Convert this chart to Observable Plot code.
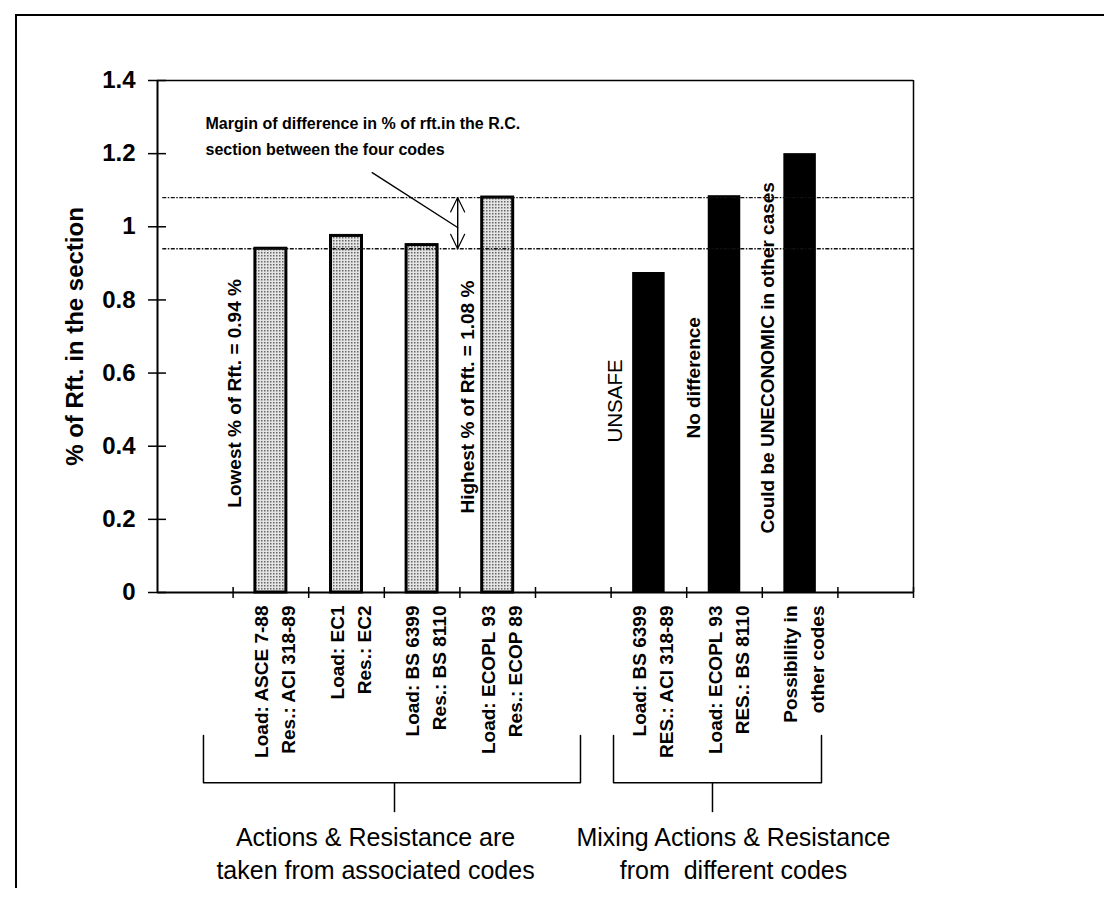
<!DOCTYPE html>
<html>
<head>
<meta charset="utf-8">
<script src="https://cdn.jsdelivr.net/npm/d3@7"></script>
<script src="https://cdn.jsdelivr.net/npm/@observablehq/plot@0.6"></script>
<style>
  body { margin: 0; background: #fff; }
  #wrap { position: relative; width: 1104px; height: 900px; overflow: hidden; }
  #frame { position: absolute; left: 15px; top: 14px; right: -4px; bottom: 12px;
           border-top: 2px solid #000; border-left: 2px solid #000; pointer-events: none; }
  #wrap svg { position: absolute; left: 0; top: 0; }
  svg text { white-space: pre; }
</style>
</head>
<body>
<div id="wrap"><div id="frame"></div></div>
<script>
// ---- data ----
const categories = [
  "",
  "Load: ASCE 7-88\nRes.: ACI 318-89",
  "Load: EC1\nRes.: EC2",
  "Load: BS 6399\nRes.: BS 8110",
  "Load: ECOPL 93\nRes.: ECOP 89",
  "",
  "Load: BS 6399\nRES.: ACI 318-89",
  "Load: ECOPL 93\nRES.: BS 8110",
  "Possibility in\nother codes",
  ""
];
const associatedCodes = [null, 0.94, 0.975, 0.95, 1.08, null, null, null, null, null];
const mixedCodes      = [null, null, null, null, null, null, 0.875, 1.085, 1.2, null];
const yTicks      = [0, 0.2, 0.4, 0.6, 0.8, 1, 1.2, 1.4];
const yTickLabels = ["0", "0.2", "0.4", "0.6", "0.8", "1", "1.2", "1.4"];
const yLabel = "% of Rft. in the section";
const lowestValue = 0.94;
const highestValue = 1.08;
const lowestText = "Lowest % of Rft. = 0.94 %";
const highestText = "Highest % of Rft. = 1.08 %";
const barNotes = ["UNSAFE", "No difference", "Could be UNECONOMIC in other cases"];
const marginNote = "Margin of difference in % of rft.in the R.C.\nsection between the four codes";
const groupLabels = ["Actions & Resistance are\ntaken from associated codes",
                     "Mixing Actions & Resistance\nfrom  different codes"];

// ---- table built from the arrays ----
const rows = categories.map((label, i) => ({i, label, associated: associatedCodes[i], mixed: mixedCodes[i]}));
const half = 0.205; // half bar width in category units
const FONT = "Arial, 'Liberation Sans', sans-serif";

const chart = Plot.plot({
  width: 1104,
  height: 900,
  marginLeft: 157,
  marginRight: 191,
  marginTop: 80,
  marginBottom: 308,
  x: {domain: [0, categories.length], axis: null},
  y: {domain: [0, 1.4], axis: null},
  style: {fontFamily: FONT, color: "#000", background: "transparent", overflow: "visible"},
  marks: [
    // bars
    Plot.rect(rows.filter(d => d.associated != null), {
      x1: d => d.i + 0.5 - half, x2: d => d.i + 0.5 + half, y1: 0, y2: "associated",
      fill: "url(#stipple)", stroke: "#000", strokeWidth: 3
    }),
    Plot.rect(rows.filter(d => d.mixed != null), {
      x1: d => d.i + 0.5 - half - 0.01, x2: d => d.i + 0.5 + half + 0.01, y1: 0, y2: "mixed",
      fill: "#000"
    }),
    // lowest / highest reference lines
    Plot.ruleY([lowestValue, highestValue], {x1: 0.07, x2: 10, stroke: "#111", strokeWidth: 1.3, strokeDasharray: "4,1.5,1.5,1.5"}),
    // plot frame (top + right)
    Plot.ruleY([1.4], {x1: 0, x2: 10, strokeWidth: 1.5}),
    Plot.ruleX([10], {y1: 0, y2: 1.4, strokeWidth: 1.5}),
    // axes lines
    Plot.ruleX([0], {y1: 0, y2: 1.4, strokeWidth: 2}),
    Plot.ruleY([0], {x1: 0, x2: 10, strokeWidth: 2}),
    // y ticks (crossing)
    Plot.ruleY(yTicks, {x1: 0, x2: 0, insetLeft: -9, insetRight: -9, strokeWidth: 1.5}),
    // x ticks (between categories)
    Plot.ruleX(d3.range(1, categories.length + 1), {y1: 0, y2: 0, insetTop: -5, insetBottom: -6, strokeWidth: 1.5}),
    // y tick labels
    Plot.text(yTicks, {x: 0, y: d => d, text: (d, i) => yTickLabels[i], textAnchor: "end", dx: -22,
      fontSize: 24, fontWeight: "bold"}),
    // y label
    Plot.text([yLabel], {frameAnchor: "left", textAnchor: "middle", rotate: -90, dx: -82, fontSize: 24, fontWeight: "bold"}),
    // category labels
    Plot.text(rows.filter(d => d.label), {x: d => d.i + 0.5, y: 0, text: "label", rotate: -90,
      textAnchor: "end", dy: 13, dx: 2, fontSize: 19, fontWeight: "bold", lineHeight: 1.42}),
    // lowest / highest notes
    Plot.text([lowestText], {x: 1.03, y: 0.232, rotate: -90, textAnchor: "start", fontSize: 19, fontWeight: "bold"}),
    Plot.text([highestText], {x: 4.10, y: 0.216, rotate: -90, textAnchor: "start", fontSize: 19, fontWeight: "bold"}),
    // notes by black bars
    Plot.text([barNotes[0]], {x: 6.06, y: 0.41, rotate: -90, textAnchor: "start", fontSize: 20.5}),
    Plot.text([barNotes[1]], {x: 7.09, y: 0.421, rotate: -90, textAnchor: "start", fontSize: 19, fontWeight: "bold"}),
    Plot.text([barNotes[2]], {x: 8.08, y: 0.161, rotate: -90, textAnchor: "start", fontSize: 19, fontWeight: "bold"}),
    // margin note + leader + double arrow
    Plot.text([marginNote], {x: 0.635, y: 1.317, textAnchor: "start", lineAnchor: "top", fontSize: 16,
      fontWeight: "bold", lineHeight: 1.62}),
    Plot.line([[2.84, 1.148], [3.97, 0.998]], {strokeWidth: 1.4}),
    Plot.arrow([0], {x1: 3.97, y1: lowestValue, x2: 3.97, y2: highestValue, headLength: 20, headAngle: 52, strokeWidth: 1.2}),
    Plot.arrow([0], {x1: 3.97, y1: highestValue, x2: 3.97, y2: lowestValue, headLength: 20, headAngle: 52, strokeWidth: 1.2}),
    // group brackets
    Plot.line([[0.608, -0.391], [0.608, -0.52], [5.595, -0.52], [5.595, -0.391]], {strokeWidth: 1.5}),
    Plot.line([[6.032, -0.391], [6.032, -0.52], [8.783, -0.52], [8.783, -0.391]], {strokeWidth: 1.5}),
    Plot.ruleX([3.135, 7.341], {y1: -0.52, y2: -0.602, strokeWidth: 1.5}),
    // group labels
    Plot.text([groupLabels[0]], {x: 2.884, y: -0.629, lineAnchor: "top", fontSize: 25, lineHeight: 1.31}),
    Plot.text([groupLabels[1]], {x: 7.619, y: -0.629, lineAnchor: "top", fontSize: 25, lineHeight: 1.31})
  ]
});

// stipple fill for the associated-code bars
const defs = d3.select(chart).insert("defs", ":first-child");
const pat = defs.append("pattern").attr("id", "stipple").attr("patternUnits", "userSpaceOnUse")
  .attr("width", 3).attr("height", 3);
pat.append("rect").attr("width", 3).attr("height", 3).attr("fill", "#e4e4e4");
pat.append("rect").attr("width", 1.5).attr("height", 1.5).attr("fill", "#666");

document.getElementById("wrap").prepend(chart);
</script>
</body>
</html>
